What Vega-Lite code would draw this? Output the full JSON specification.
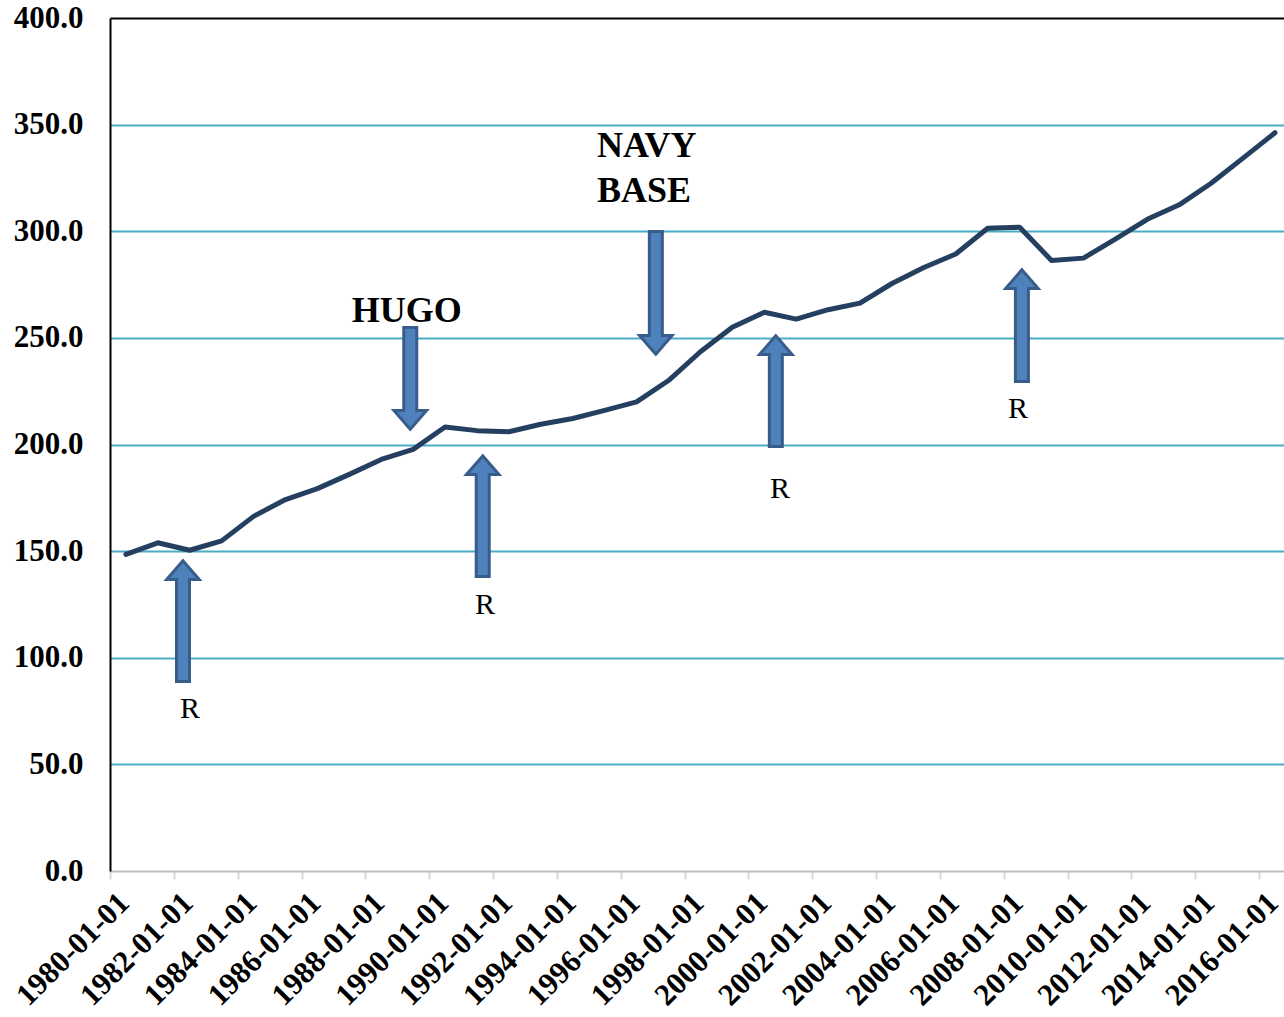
{
  "$schema": "https://vega.github.io/schema/vega-lite/v6.json",
  "width": 1174,
  "height": 853,
  "autosize": {"type": "none"},
  "padding": {"left": 110, "top": 18, "right": 0, "bottom": 146},
  "background": "white",
  "config": {"view": {"stroke": null}, "font": "Liberation Serif"},
  "datasets": {
    "series": [
      {"date": "1980-07-01", "value": 148.5},
      {"date": "1981-07-01", "value": 153.9},
      {"date": "1982-07-01", "value": 150.4},
      {"date": "1983-07-01", "value": 154.8},
      {"date": "1984-07-01", "value": 166.3},
      {"date": "1985-07-01", "value": 174.2},
      {"date": "1986-07-01", "value": 179.3},
      {"date": "1987-07-01", "value": 186.0},
      {"date": "1988-07-01", "value": 193.0},
      {"date": "1989-07-01", "value": 197.7},
      {"date": "1990-07-01", "value": 208.2},
      {"date": "1991-07-01", "value": 206.5},
      {"date": "1992-07-01", "value": 206.0},
      {"date": "1993-07-01", "value": 209.5},
      {"date": "1994-07-01", "value": 212.2},
      {"date": "1995-07-01", "value": 216.0},
      {"date": "1996-07-01", "value": 220.0},
      {"date": "1997-07-01", "value": 230.0},
      {"date": "1998-07-01", "value": 243.5},
      {"date": "1999-07-01", "value": 255.0},
      {"date": "2000-07-01", "value": 262.0},
      {"date": "2001-07-01", "value": 258.8},
      {"date": "2002-07-01", "value": 263.2},
      {"date": "2003-07-01", "value": 266.3},
      {"date": "2004-07-01", "value": 275.5},
      {"date": "2005-07-01", "value": 283.0},
      {"date": "2006-07-01", "value": 289.3},
      {"date": "2007-07-01", "value": 301.4},
      {"date": "2008-07-01", "value": 301.9},
      {"date": "2009-07-01", "value": 286.3},
      {"date": "2010-07-01", "value": 287.4},
      {"date": "2011-07-01", "value": 296.3},
      {"date": "2012-07-01", "value": 305.6},
      {"date": "2013-07-01", "value": 312.4},
      {"date": "2014-07-01", "value": 322.5},
      {"date": "2015-07-01", "value": 334.3},
      {"date": "2016-07-01", "value": 346.2}
    ],
    "arrows": [
      {"date": "1982-04-15", "value": 89.6, "base": 137.4, "dir": "up"},
      {"date": "1989-05-29", "value": 254.2, "base": 215.2, "dir": "down"},
      {"date": "1991-09-05", "value": 138.8, "base": 186.6, "dir": "up"},
      {"date": "1997-02-06", "value": 299.2, "base": 250.4, "dir": "down"},
      {"date": "2000-11-10", "value": 199.8, "base": 242.9, "dir": "up"},
      {"date": "2008-07-27", "value": 230.2, "base": 273.9, "dir": "up"}
    ],
    "rlabels": [
      {"date": "1982-07-05", "value": 71.7, "text": "R"},
      {"date": "1991-10-01", "value": 120.5, "text": "R"},
      {"date": "2000-12-28", "value": 174.9, "text": "R"},
      {"date": "2008-06-13", "value": 212.4, "text": "R"}
    ],
    "events": [
      {"date": "1987-07-30", "value": 257.4, "text": "HUGO"},
      {"date": "1995-04-05", "value": 334.8, "text": "NAVY\nBASE"}
    ]
  },
  "encoding": {
    "x": {
      "field": "date",
      "type": "temporal",
      "scale": {
        "type": "utc",
        "padding": 0,
        "domain": [
          {"year": 1980, "month": 1, "date": 1, "utc": true},
          {"year": 2016, "month": 10, "date": 12, "utc": true}
        ]
      },
      "axis": {
        "title": null,
        "values": [
          {"year": 1980, "month": 1, "date": 1, "utc": true},
          {"year": 1982, "month": 1, "date": 1, "utc": true},
          {"year": 1984, "month": 1, "date": 1, "utc": true},
          {"year": 1986, "month": 1, "date": 1, "utc": true},
          {"year": 1988, "month": 1, "date": 1, "utc": true},
          {"year": 1990, "month": 1, "date": 1, "utc": true},
          {"year": 1992, "month": 1, "date": 1, "utc": true},
          {"year": 1994, "month": 1, "date": 1, "utc": true},
          {"year": 1996, "month": 1, "date": 1, "utc": true},
          {"year": 1998, "month": 1, "date": 1, "utc": true},
          {"year": 2000, "month": 1, "date": 1, "utc": true},
          {"year": 2002, "month": 1, "date": 1, "utc": true},
          {"year": 2004, "month": 1, "date": 1, "utc": true},
          {"year": 2006, "month": 1, "date": 1, "utc": true},
          {"year": 2008, "month": 1, "date": 1, "utc": true},
          {"year": 2010, "month": 1, "date": 1, "utc": true},
          {"year": 2012, "month": 1, "date": 1, "utc": true},
          {"year": 2014, "month": 1, "date": 1, "utc": true},
          {"year": 2016, "month": 1, "date": 1, "utc": true}
        ],
        "format": "%Y-%m-%d",
        "labelAngle": -45,
        "labelAlign": "right",
        "labelBaseline": "middle",
        "labelFont": "Liberation Serif",
        "labelFontSize": 31,
        "labelFontWeight": "bold",
        "labelColor": "black",
        "labelPadding": 19,
        "labelOffset": 14,
        "labelOverlap": false,
        "labelBound": false,
        "labelFlush": false,
        "tickColor": "#d9d9d9",
        "tickSize": 8,
        "tickWidth": 2,
        "domainColor": "#bfbfbf",
        "domainWidth": 2,
        "grid": false
      }
    },
    "y": {
      "field": "value",
      "type": "quantitative",
      "scale": {"domain": [0, 400], "nice": false},
      "axis": {
        "title": null,
        "values": [0, 50, 100, 150, 200, 250, 300, 350, 400],
        "format": ".1f",
        "labelFont": "Liberation Serif",
        "labelFontSize": 31,
        "labelFontWeight": "bold",
        "labelColor": "black",
        "labelPadding": 27,
        "ticks": false,
        "domainColor": "black",
        "domainWidth": 2,
        "grid": true,
        "gridColor": {"condition": {"test": "datum.value == 400", "value": "black"}, "value": "#4bacc6"},
        "gridOpacity": {"condition": {"test": "datum.value == 0", "value": 0}, "value": 1},
        "gridWidth": 2
      }
    }
  },
  "layer": [
    {
      "data": {"name": "series"},
      "mark": {"type": "line", "color": "#243f60", "strokeWidth": 5, "strokeCap": "round", "strokeJoin": "round"}
    },
    {
      "data": {"name": "arrows"},
      "mark": {"type": "bar", "width": 10, "color": "#385d8a", "stroke": "#385d8a", "strokeWidth": 6},
      "encoding": {"y2": {"field": "base"}}
    },
    {
      "data": {"name": "arrows"},
      "mark": {"type": "point", "filled": true, "opacity": 1, "color": "#385d8a", "stroke": "#385d8a", "strokeWidth": 6, "size": 676},
      "encoding": {
        "y": {"field": "base", "type": "quantitative"},
        "shape": {"field": "dir", "type": "nominal", "legend": null,
          "scale": {"domain": ["up", "down"], "range": ["M0,-1.15L-1,0L1,0Z", "M0,1.15L-1,0L1,0Z"]}}
      }
    },
    {
      "data": {"name": "arrows"},
      "mark": {"type": "bar", "width": 10, "color": "#4f81bd", "strokeWidth": 0},
      "encoding": {"y2": {"field": "base"}}
    },
    {
      "data": {"name": "arrows"},
      "mark": {"type": "point", "filled": true, "opacity": 1, "color": "#4f81bd", "strokeWidth": 0, "size": 676},
      "encoding": {
        "y": {"field": "base", "type": "quantitative"},
        "shape": {"field": "dir", "type": "nominal", "legend": null,
          "scale": {"domain": ["up", "down"], "range": ["M0,-1.15L-1,0L1,0Z", "M0,1.15L-1,0L1,0Z"]}}
      }
    },
    {
      "data": {"name": "rlabels"},
      "mark": {"type": "text", "font": "Liberation Serif", "fontSize": 30, "align": "center", "baseline": "alphabetic", "color": "black"},
      "encoding": {"text": {"field": "text"}}
    },
    {
      "data": {"name": "events"},
      "mark": {"type": "text", "font": "Liberation Serif", "fontSize": 36, "fontWeight": "bold", "align": "left", "baseline": "alphabetic", "color": "black", "lineBreak": "\n", "lineHeight": 45},
      "encoding": {"text": {"field": "text"}}
    }
  ]
}
